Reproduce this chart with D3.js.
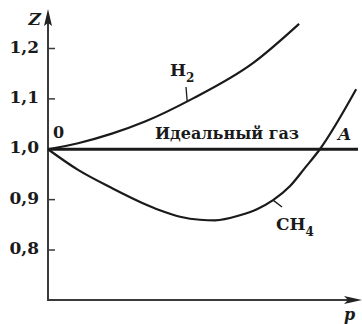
<!DOCTYPE html>
<html>
<head>
<meta charset="utf-8">
<script src="https://cdn.jsdelivr.net/npm/d3@7"></script>
<style>
  html, body { margin: 0; padding: 0; background: #fff; }
  svg { display: block; }
  text { font-family: "DejaVu Serif", serif; font-weight: bold; fill: #1a1a1a; }
</style>
</head>
<body>
<div id="chart"></div>
<script>
// Z(p) for real gases vs ideal gas (arbitrary pressure units)
const zTicks = [0.8, 0.9, 1.0, 1.1, 1.2];
const zTickLabels = ["0,8", "0,9", "1,0", "1,1", "1,2"];

const h2P = [0, 0.97, 2.06, 3.13, 4.68, 6.61, 8.10];
const h2Z = [1.000, 1.012, 1.031, 1.055, 1.101, 1.171, 1.249];

const ch4P = [0, 0.97, 2.06, 3.06, 3.61, 4.26, 4.90, 5.39, 6.19, 6.74, 7.26, 7.81, 8.29, 8.77, 9.94];
const ch4Z = [1.000, 0.959, 0.923, 0.893, 0.879, 0.866, 0.860, 0.859, 0.869, 0.881, 0.899, 0.927, 0.963, 1.000, 1.119];

const idealP = [0, 10];
const idealZ = [1.0, 1.0];

const W = 362, H = 324;

const svg = d3.select("#chart").append("svg")
    .attr("width", W)
    .attr("height", H);

const x = d3.scaleLinear().domain([0, 10]).range([48, 358]);
const y = d3.scaleLinear().domain([0.8, 1.2]).range([250, 48.5]);

const x0 = x(0), yBottom = 300, yTop = 9, xRight = 362;

// axes
const axisColor = "#3a3a3a";
svg.append("line")
    .attr("x1", x0).attr("y1", yBottom + 1)
    .attr("x2", x0).attr("y2", yTop + 10)
    .attr("stroke", axisColor).attr("stroke-width", 2);
svg.append("line")
    .attr("x1", x0 - 1).attr("y1", yBottom)
    .attr("x2", xRight - 10).attr("y2", yBottom)
    .attr("stroke", axisColor).attr("stroke-width", 2);

// arrow heads
svg.append("path")
    .attr("d", `M${x0},${yTop} L${x0 + 4},${yTop + 17} L${x0},${yTop + 14} L${x0 - 4},${yTop + 17} Z`)
    .attr("fill", "#222");
svg.append("path")
    .attr("d", `M${xRight},${yBottom} L${xRight - 18},${yBottom - 4} L${xRight - 14},${yBottom} L${xRight - 18},${yBottom + 4} Z`)
    .attr("fill", "#222");

// ticks (short stubs on the right of the axis)
svg.selectAll(".tick")
    .data(zTicks.filter(d => d !== 1.0))
    .join("line")
    .attr("x1", x0).attr("x2", x0 + 7)
    .attr("y1", d => y(d)).attr("y2", d => y(d))
    .attr("stroke", axisColor).attr("stroke-width", 1.5);

svg.selectAll(".tlabel")
    .data(zTicks)
    .join("text")
    .attr("x", x0 - 9)
    .attr("y", d => y(d) + 4)
    .attr("text-anchor", "end")
    .attr("font-size", 17)
    .text((d, i) => zTickLabels[i]);

// axis names
svg.append("text")
    .attr("x", 41).attr("y", 25)
    .attr("text-anchor", "end")
    .attr("font-size", 17)
    .attr("font-style", "italic")
    .text("Z");
svg.append("text")
    .attr("x", 344).attr("y", 320)
    .attr("font-size", 16)
    .attr("font-style", "italic")
    .text("p");
svg.append("text")
    .attr("x", x0 + 5).attr("y", y(1.0) - 11)
    .attr("font-size", 16)
    .text("0");

// curves
const line = d3.line()
    .x(d => x(d[0]))
    .y(d => y(d[1]))
    .curve(d3.curveMonotoneX);

svg.append("path")
    .datum(idealP.map((p, i) => [p, idealZ[i]]))
    .attr("d", d3.line().x(d => x(d[0])).y(d => y(d[1])))
    .attr("fill", "none").attr("stroke", "#1a1a1a").attr("stroke-width", 3);

svg.append("path")
    .datum(h2P.map((p, i) => [p, h2Z[i]]))
    .attr("d", line)
    .attr("fill", "none").attr("stroke", "#1a1a1a").attr("stroke-width", 2.2);

svg.append("path")
    .datum(ch4P.map((p, i) => [p, ch4Z[i]]))
    .attr("d", line)
    .attr("fill", "none").attr("stroke", "#1a1a1a").attr("stroke-width", 2.2);

// labels
svg.append("text")
    .attr("x", 155).attr("y", y(1.0) - 10)
    .attr("font-size", 16)
    .text("Идеальный газ");
svg.append("text")
    .attr("x", 338).attr("y", y(1.0) - 9)
    .attr("font-size", 17)
    .attr("font-style", "italic")
    .text("A");

const h2Label = svg.append("text")
    .attr("x", 170).attr("y", 76)
    .attr("font-size", 17);
h2Label.append("tspan").text("H");
h2Label.append("tspan").attr("dy", 6).attr("font-size", 12).text("2");
svg.append("line")
    .attr("x1", 186).attr("y1", 87)
    .attr("x2", x(4.49)).attr("y2", y(1.095))
    .attr("stroke", "#1a1a1a").attr("stroke-width", 1.3);

const ch4Label = svg.append("text")
    .attr("x", 276).attr("y", 230)
    .attr("font-size", 17);
ch4Label.append("tspan").text("CH");
ch4Label.append("tspan").attr("dy", 6).attr("font-size", 12).text("4");
svg.append("line")
    .attr("x1", x(7.26)).attr("y1", y(0.899))
    .attr("x2", 282).attr("y2", 207)
    .attr("stroke", "#1a1a1a").attr("stroke-width", 1.3);
</script>
</body>
</html>
